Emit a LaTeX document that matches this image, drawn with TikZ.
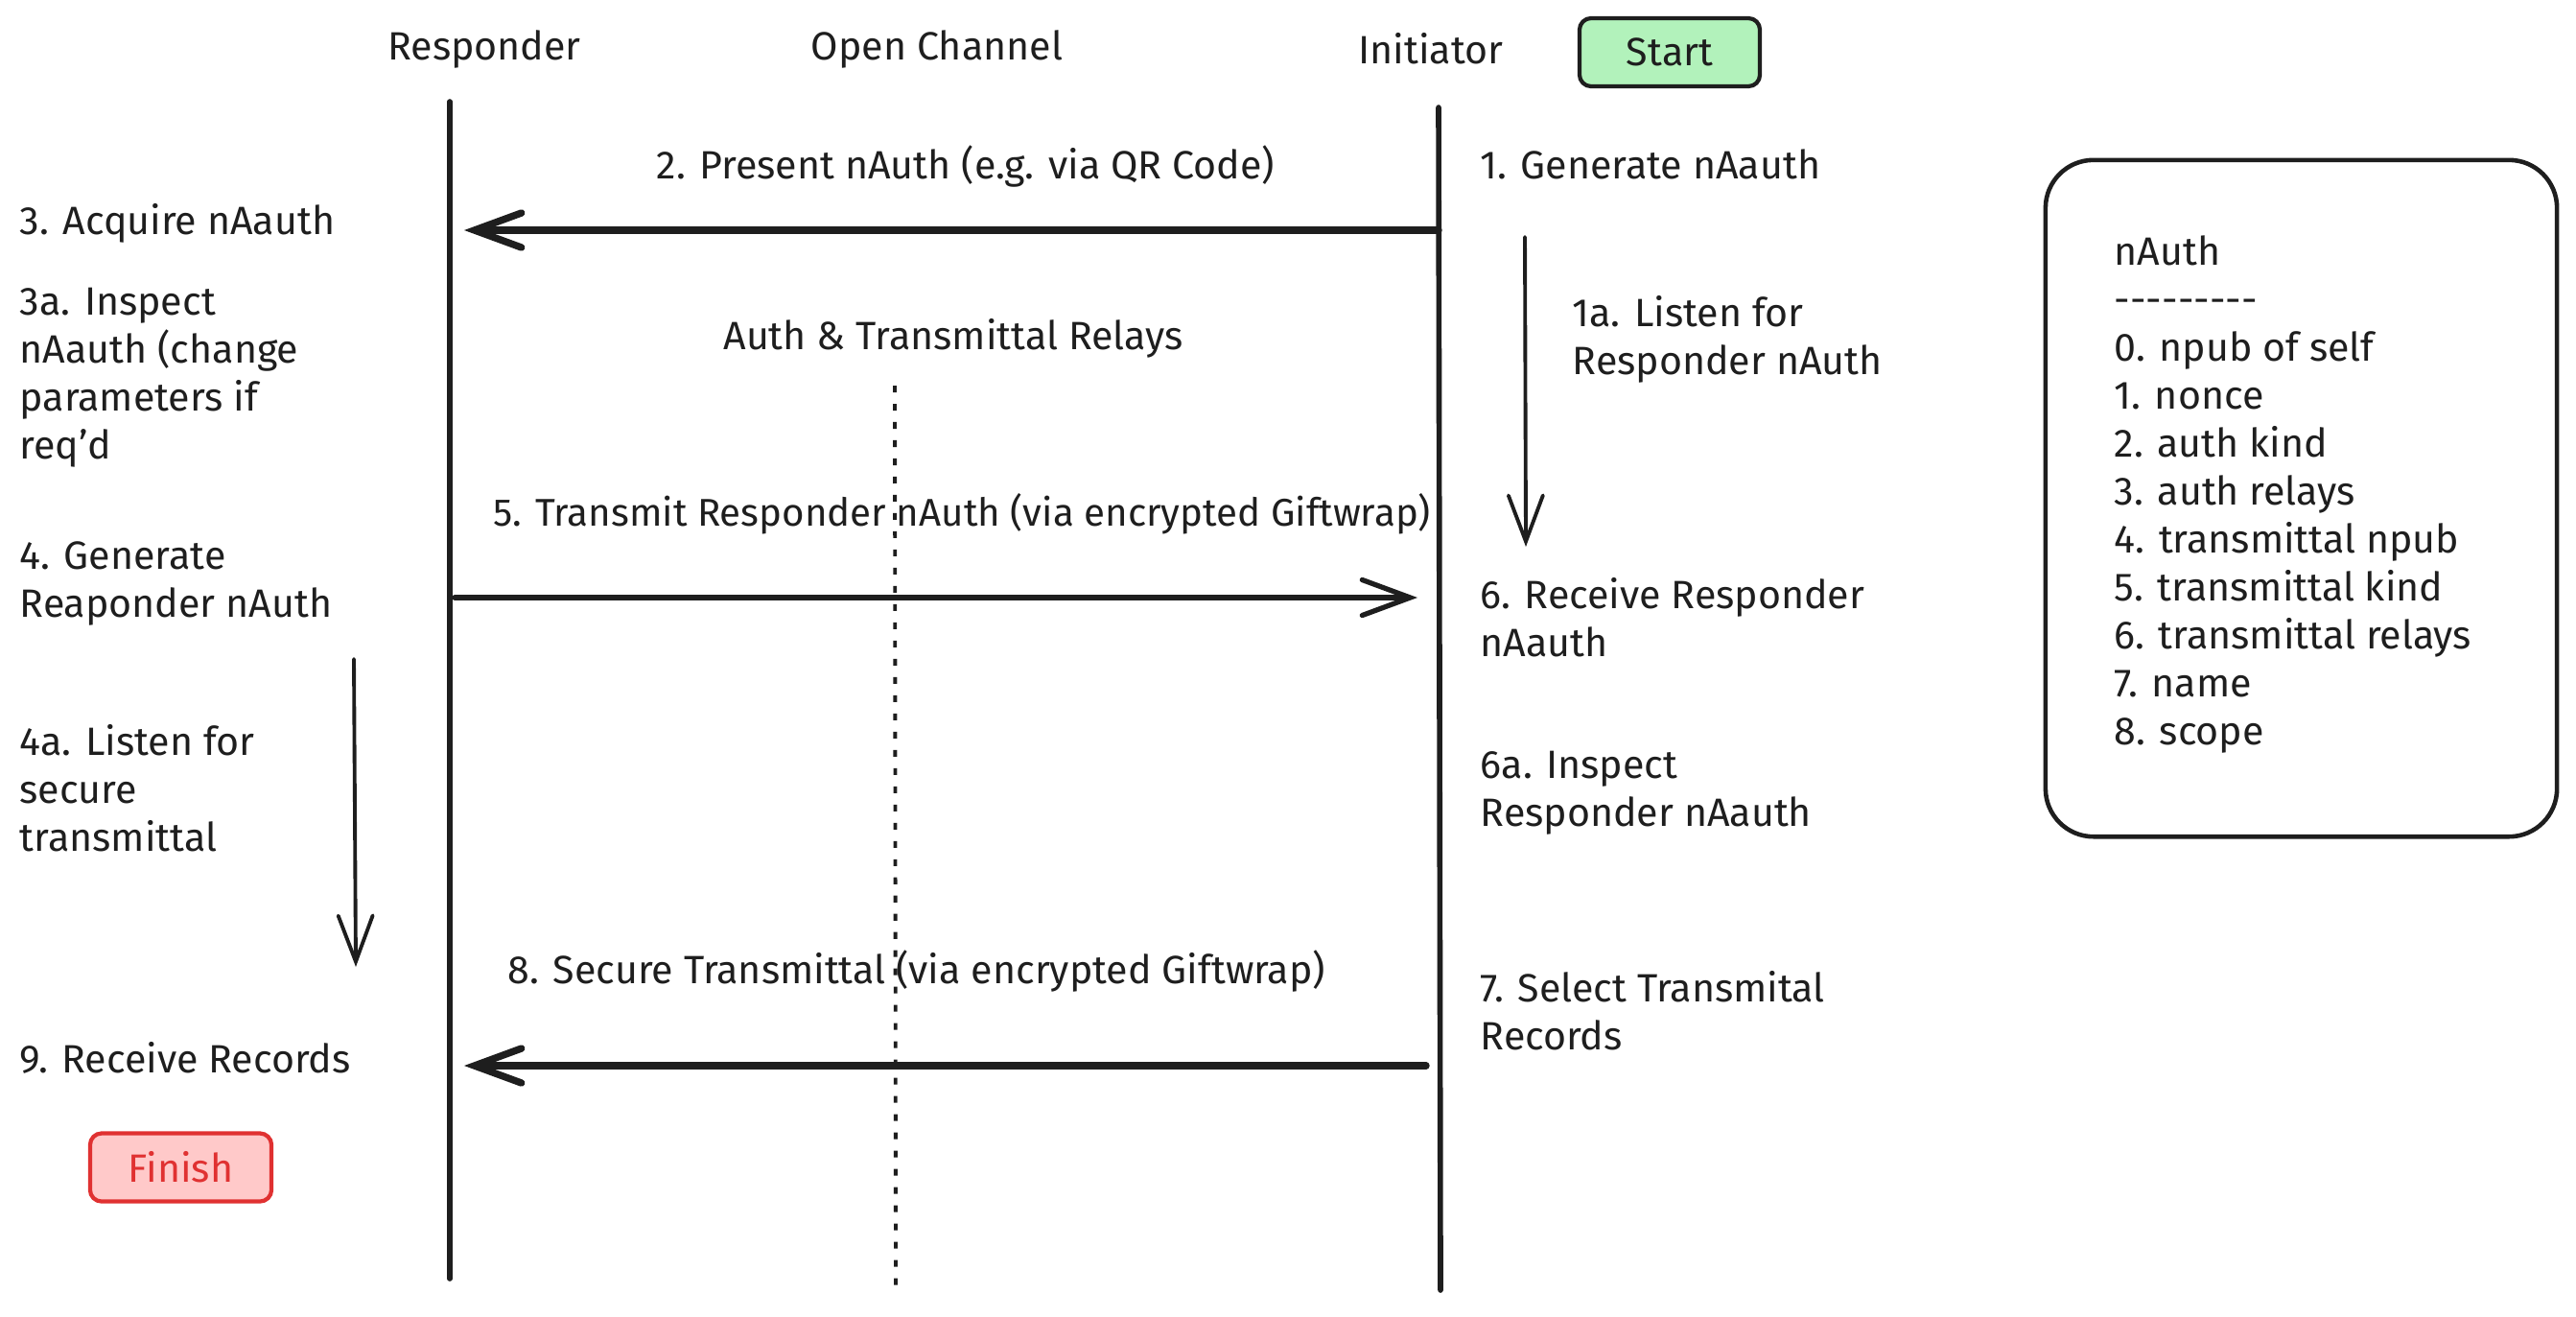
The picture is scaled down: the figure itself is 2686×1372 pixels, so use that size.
\documentclass[tikz,border=0pt]{standalone}
\usepackage{fontspec}
\setmainfont{Fira Sans}
\usetikzlibrary{arrows.meta}
\definecolor{ink}{HTML}{1E1E1E}
\definecolor{startfill}{HTML}{B2F2BB}
\definecolor{finfill}{HTML}{FFC9C9}
\definecolor{finred}{HTML}{E03131}
\begin{document}
\begin{tikzpicture}[x=0.01cm,y=-0.01cm,
  txt/.style={font=\fontsize{11.7}{14.2}\selectfont, text=ink, inner sep=0pt, align=left},
  lifeline/.style={draw=ink, line width=1.6pt, line cap=round},
  dotline/.style={draw=ink, line width=1.1pt, dash pattern=on 2pt off 3.4pt},
  bigmsg/.style={draw=ink, line width=2.1pt, line cap=round, -{Straight Barb[length=0.49cm,width=0.36cm,line cap=round]}},
  midmsg/.style={draw=ink, line width=1.5pt, line cap=round, -{Straight Barb[length=0.5cm,width=0.37cm,line cap=round]}},
  waitarrow/.style={draw=ink, line width=1.1pt, line cap=round, -{Straight Barb[length=0.48cm,width=0.36cm,line cap=round]}},
  startbox/.style={draw=ink, fill=startfill, line width=1.2pt, rounded corners=0.12cm, minimum width=1.88cm, minimum height=0.71cm, txt},
  finbox/.style={draw=finred, fill=finfill, line width=1.2pt, rounded corners=0.12cm, minimum width=1.89cm, minimum height=0.71cm, txt, text=finred},
  listbox/.style={draw=ink, line width=1.3pt, rounded corners=0.5cm, minimum width=5.33cm, minimum height=7.05cm}
]
\useasboundingbox (0,0) rectangle (2686,1372);

% headers
\node[txt] (hresp) at (505,51) {Responder};
\node[txt] (hopen) at (977,51) {Open Channel};
\node[txt] (hinit) at (1492,51) {Initiator};
\node[startbox] (start) at (1741,54.5) {Start};

% lifelines
\coordinate (rtop) at (469,106);
\coordinate (rbot) at (469,1333);
\coordinate (itop) at (1500,112);
\coordinate (ibot) at (1502,1345);
\coordinate (otop) at (933,402);
\coordinate (obot) at (934,1342);
\draw[lifeline] (rtop) -- (rbot);
\draw[lifeline] (itop) -- (ibot);
\draw[dotline] (otop) -- (obot);

% message endpoints
\coordinate (i2) at (1500,240);
\coordinate (r2) at (484,240);
\coordinate (r5) at (474,623);
\coordinate (i5) at (1478,623);
\coordinate (i8) at (1487,1111);
\coordinate (r8) at (484,1111);
\draw[bigmsg] (i2) -- (r2);
\draw[midmsg] (r5) -- (i5);
\draw[bigmsg] (i8) -- (r8);

% waiting arrows
\coordinate (w1s) at (1590,247);
\coordinate (w1e) at (1591,570);
\coordinate (w4s) at (369,687);
\coordinate (w4e) at (371,1008);
\draw[waitarrow] (w1s) -- (w1e);
\draw[waitarrow] (w4s) -- (w4e);

% message labels
\node[txt] (l2) at (1007,173) {2. Present nAuth (e.g. via QR Code)};
\node[txt] (lrel) at (994,353) {Auth \& Transmittal Relays};
\node[txt, font=\fontsize{11.45}{14.2}\selectfont] (l5) at (1003,536) {5. Transmit Responder nAuth (via encrypted Giftwrap)};
\node[txt] (l8) at (956,1012) {8. Secure Transmittal (via encrypted Giftwrap)};

% initiator steps
\node[txt, anchor=west] (s1) at (1543,171) {1. Generate nAauth};
\node[txt, anchor=west] (s1a) at (1639,354) {1a. Listen for\\Responder nAuth};
\node[txt, anchor=west] (s6) at (1543,644) {6. Receive Responder\\nAauth};
\node[txt, anchor=west] (s6a) at (1543,827) {6a. Inspect\\Responder nAauth};
\node[txt, anchor=west] (s7) at (1543,1054) {7. Select Transmital\\Records};

% responder steps
\node[txt, anchor=west] (s3) at (20,233) {3. Acquire nAauth};
\node[txt, anchor=west] (s3a) at (20,394) {3a. Inspect\\nAauth (change\\parameters if\\req'd};
\node[txt, anchor=west] (s4) at (20,608) {4. Generate\\Reaponder nAuth};
\node[txt, anchor=west] (s4a) at (20,822) {4a. Listen for\\secure\\transmittal};
\node[txt, anchor=west] (s9) at (20,1103) {9. Receive Records};
\node[finbox] (finish) at (188.5,1217) {Finish};

% nAuth structure
\node[listbox] (nbox) at (2399.5,519.5) {};
\node[txt, anchor=west] (nlist) at (2204,515.5) {nAuth\\-{}-{}-{}-{}-{}-{}-{}-{}-\\0. npub of self\\1. nonce\\2. auth kind\\3. auth relays\\4. transmittal npub\\5. transmittal kind\\6. transmittal relays\\7. name\\8. scope};
\end{tikzpicture}
\end{document}
